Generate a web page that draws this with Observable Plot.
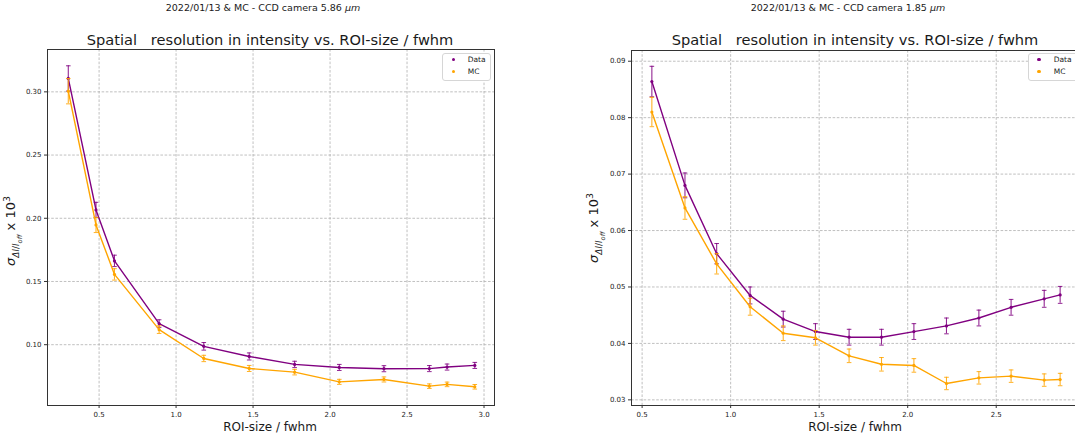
<!DOCTYPE html>
<html><head><meta charset="utf-8">
<script src="https://cdn.jsdelivr.net/npm/d3@7"></script>
<script src="https://cdn.jsdelivr.net/npm/@observablehq/plot@0.6"></script>
<style>
html,body{margin:0;padding:0;background:#fff}
body{width:1075px;height:441px;overflow:hidden;position:relative;font-family:"DejaVu Sans",sans-serif;color:#1a1a1a}
.abs{position:absolute;white-space:nowrap;transform:translate(-50%,-50%);line-height:1}
.ylab{position:absolute;white-space:nowrap;transform:translate(-50%,-50%) rotate(-90deg);font-size:13px;line-height:1}
.ylab sub,.ylab sup{line-height:0}
.leg{position:absolute;background:#fff;border:1px solid #d6d6d6;border-radius:3px;font-size:7.5px}
.leg .row{position:absolute;white-space:nowrap}
.leg .dot{position:absolute;width:3.5px;height:3.5px;border-radius:50%}
.panel{position:absolute;top:0;width:540px}
.panel svg{max-width:none !important;width:540px !important;height:441px !important;display:block}
</style></head>
<body>
<script>
// ---------- Left panel: CCD camera 5.86 µm ----------
const leftX       = [0.30, 0.48, 0.60, 0.89, 1.18, 1.475, 1.77, 2.06, 2.35, 2.645, 2.76, 2.94];
const leftData    = [0.3106, 0.2066, 0.1663, 0.1167, 0.0987, 0.0907, 0.0844, 0.0820, 0.0810, 0.0811, 0.0823, 0.0836];
const leftDataErr = [0.0100, 0.0060, 0.0045, 0.0030, 0.0030, 0.0028, 0.0025, 0.0024, 0.0024, 0.0024, 0.0024, 0.0024];
const leftMC      = [0.3005, 0.1947, 0.1556, 0.1119, 0.0891, 0.0812, 0.0783, 0.0706, 0.0725, 0.0672, 0.0686, 0.0667];
const leftMCErr   = [0.0100, 0.0060, 0.0045, 0.0030, 0.0025, 0.0024, 0.0022, 0.0020, 0.0020, 0.0018, 0.0018, 0.0018];
const leftXTicks  = [0.5, 1.0, 1.5, 2.0, 2.5, 3.0];
const leftYTicks  = [0.10, 0.15, 0.20, 0.25, 0.30];

// ---------- Right panel: CCD camera 1.85 µm ----------
const rightX       = [0.555, 0.742, 0.921, 1.110, 1.297, 1.479, 1.669, 1.852, 2.035, 2.219, 2.402, 2.584, 2.771, 2.861];
const rightData    = [0.0864, 0.0680, 0.0559, 0.0485, 0.0443, 0.0421, 0.0411, 0.0411, 0.0421, 0.0431, 0.0445, 0.0464, 0.0479, 0.0486];
const rightDataErr = [0.0027, 0.0022, 0.0018, 0.0015, 0.0014, 0.0014, 0.0014, 0.0014, 0.0014, 0.0014, 0.0014, 0.0014, 0.0015, 0.0015];
const rightMC      = [0.0810, 0.0640, 0.0541, 0.0465, 0.0418, 0.0410, 0.0378, 0.0363, 0.0361, 0.0329, 0.0339, 0.0342, 0.0335, 0.0336];
const rightMCErr   = [0.0026, 0.0020, 0.0018, 0.0015, 0.0013, 0.0013, 0.0012, 0.0012, 0.0012, 0.0011, 0.0011, 0.0011, 0.0011, 0.0011];
const rightXTicks  = [0.5, 1.0, 1.5, 2.0, 2.5];
const rightYTicks  = [0.03, 0.04, 0.05, 0.06, 0.07, 0.08, 0.09];

const seriesNames = ["Data", "MC"];
const seriesColors = ["#800080", "#ffa500"];
const suptitles = ["2022/01/13 & MC - CCD camera 5.86 ", "2022/01/13 & MC - CCD camera 1.85 "];
const axTitle = "Spatial   resolution in intensity vs. ROI-size / fwhm";
const xLabel = "ROI-size / fwhm";

const capSymbol = {draw(ctx, size){const r = Math.sqrt(size/Math.PI); ctx.moveTo(-r,0); ctx.lineTo(r,0);}};

function rows(xs, ys, es, name){ return xs.map((x,i)=>({x, y: ys[i], lo: ys[i]-es[i], hi: ys[i]+es[i], s: name})); }

function panel(opts){
  const data = [...rows(opts.x, opts.data, opts.dataErr, "Data"), ...rows(opts.x, opts.mc, opts.mcErr, "MC")];
  const marks = [
    Plot.gridX(opts.xTicks, {stroke:"#b0b0b0", strokeOpacity:1, strokeWidth:0.8, strokeDasharray:"2.6,1.6"}),
    Plot.gridY(opts.yTicks, {stroke:"#b0b0b0", strokeOpacity:1, strokeWidth:0.8, strokeDasharray:"2.6,1.6"}),
    Plot.axisX(opts.xTicks, {tickSize:3, tickPadding:3.5, tickFormat:d3.format(".1f"), label:null, stroke:"#333"}),
    Plot.axisY(opts.yTicks, {tickSize:3, tickPadding:3, tickFormat:d3.format(".2f"), label:null, stroke:"#333"}),
  ];
  for (const name of ["Data","MC"]) {
    const c = seriesColors[seriesNames.indexOf(name)];
    const d = data.filter(r=>r.s===name);
    marks.push(
      Plot.line(d, {x:"x", y:"y", stroke:c, strokeWidth:1.4}),
      Plot.ruleX(d, {x:"x", y1:"lo", y2:"hi", stroke:c, strokeWidth:1.1, strokeOpacity:0.85}),
      Plot.dot(d, {x:"x", y:"lo", symbol:capSymbol, r:2.3, fill:"none", stroke:c, strokeWidth:1, strokeOpacity:0.85}),
      Plot.dot(d, {x:"x", y:"hi", symbol:capSymbol, r:2.3, fill:"none", stroke:c, strokeWidth:1, strokeOpacity:0.85}),
      Plot.dot(d, {x:"x", y:"y", r:1.6, fill:c, stroke:"none"})
    );
  }
  marks.push(Plot.frame({stroke:"#333", strokeWidth:1}));
  return Plot.plot({
    width: opts.width, height: 441,
    marginLeft: opts.ml, marginRight: opts.mr, marginTop: opts.mt, marginBottom: opts.mb,
    x: {domain: opts.xDomain}, y: {domain: opts.yDomain},
    style: {fontFamily:"DejaVu Sans, sans-serif", fontSize:"7px", color:"#222", background:"transparent", overflow:"visible", maxWidth:"none"},
    marks
  });
}

function place(el, left){ const w = document.createElement("div"); w.className="panel"; w.style.left = left+"px"; w.appendChild(el); document.body.appendChild(w); }

place(panel({x:leftX, data:leftData, dataErr:leftDataErr, mc:leftMC, mcErr:leftMCErr,
  xTicks:leftXTicks, yTicks:leftYTicks, width:540, ml:47, mr:46, mt:49, mb:36,
  xDomain:[0.165, 3.068], yDomain:[0.0519, 0.3335]}), 0);
place(panel({x:rightX, data:rightData, dataErr:rightDataErr, mc:rightMC, mcErr:rightMCErr,
  xTicks:rightXTicks, yTicks:rightYTicks, width:540, ml:71, mr:20, mt:50, mb:36,
  xDomain:[0.44, 2.976], yDomain:[0.0290, 0.0919]}), 560);

function text(html, x, y, size, extra){ const d=document.createElement("div"); d.className="abs"; d.style.left=x+"px"; d.style.top=y+"px"; d.style.fontSize=size+"px"; if(extra) Object.assign(d.style, extra); d.innerHTML=html; document.body.appendChild(d); }
function esc(s){ return s.replace(/&/g,"&amp;"); }

const suptitleX = [263, 848], titleX = [270, 855], xlabX = [270, 855], ylabX = [12, 595], ylabY = [231, 228];
for (let i=0;i<2;i++){
  text(esc(suptitles[i]) + "<i>μm</i>", suptitleX[i], 7.5, 9.5);
  text(axTitle, titleX[i], 40, 14.6, {whiteSpace:"pre"});
  text(xLabel, xlabX[i], 427, 12);
  const y = document.createElement("div"); y.className="ylab"; y.style.left=ylabX[i]+"px"; y.style.top=ylabY[i]+"px";
  y.innerHTML = '<i>σ</i><sub style="font-size:0.68em"><i>ΔI</i>/<i>I</i><sub style="font-size:0.75em"><i>off</i></sub></sub> x 10<sup style="font-size:0.72em">3</sup>';
  document.body.appendChild(y);
}

// legends
function legend(left, top, width, dotX, textX){
  const L = document.createElement("div"); L.className="leg";
  Object.assign(L.style, {left:left+"px", top:top+"px", width:width+"px", height:"26px"});
  seriesNames.forEach((n,i)=>{
    const dot = document.createElement("div"); dot.className="dot";
    Object.assign(dot.style,{left:(dotX-left-1.75-1)+"px", top:(6.3+i*12.4-1.75-1)+"px", background:seriesColors[i]});
    const t = document.createElement("div"); t.className="row"; t.textContent=n;
    Object.assign(t.style,{left:(textX-left-1)+"px", top:(6.3+i*12.4-4.5-1)+"px"});
    L.appendChild(dot); L.appendChild(t);
  });
  document.body.appendChild(L);
}
legend(442, 53, 47, 453.3, 467.7);
legend(1028, 53, 60, 1039, 1053.7);
</script>
</body></html>
